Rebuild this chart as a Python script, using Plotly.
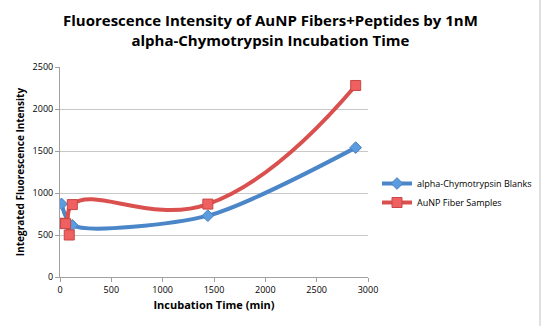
import plotly.graph_objects as go

blue_name = "alpha-Chymotrypsin Blanks"
blue_x = [15, 120, 1440, 2880]
blue_y = [870, 615, 730, 1540]

red_name = "AuNP Fiber Samples"
red_x = [15, 55, 90, 120, 1440, 2880]
red_y = [640, 635, 500, 862, 868, 2280]

x_ticks = [0, 500, 1000, 1500, 2000, 2500, 3000]
y_ticks = [0, 500, 1000, 1500, 2000, 2500]

title = "<b>Fluorescence Intensity of AuNP Fibers+Peptides by 1nM<br>alpha-Chymotrypsin Incubation Time</b>"
font = "Open Sans"

fig = go.Figure()
fig.add_trace(go.Scatter(
    x=blue_x, y=blue_y, name=blue_name, mode="lines+markers",
    line=dict(color="#4a86c8", width=4, shape="spline", smoothing=0.75),
    marker=dict(symbol="diamond", size=9, color="#5b9be0", line=dict(color="#4a7fbf", width=1)),
))
fig.add_trace(go.Scatter(
    x=red_x, y=red_y, name=red_name, mode="lines+markers",
    line=dict(color="#d9504f", width=4, shape="spline", smoothing=1.3),
    marker=dict(symbol="square", size=10, color="#f06060", line=dict(color="#c84646", width=1)),
))

fig.update_layout(
    width=541, height=326,
    margin=dict(l=60, r=173, t=67, b=49, autoexpand=False),
    paper_bgcolor="white", plot_bgcolor="white",
    font=dict(family=font, color="black", size=9),
    showlegend=True,
    legend=dict(x=377/541, y=1 - 193/326, xanchor="left", yanchor="middle", xref="container", yref="container",
                font=dict(family=font, size=9, color="black"), tracegroupgap=6,
                itemwidth=30, bgcolor="rgba(0,0,0,0)"),
    xaxis=dict(range=[0, 3000], tickvals=x_ticks, showgrid=False, zeroline=False,
               showline=True, linecolor="#a0a0a0", linewidth=1, ticks="outside",
               tickcolor="#a0a0a0", ticklen=4,
               title=dict(text="<b>Incubation Time (min)</b>", font=dict(size=11, family=font), standoff=6)),
    yaxis=dict(range=[0, 2500], tickvals=y_ticks, showgrid=True, gridcolor="#c8c8c8", gridwidth=1,
               zeroline=False, showline=True, linecolor="#a0a0a0", linewidth=1, ticks="outside",
               tickcolor="#a0a0a0", ticklen=4,
               title=dict(text="<b>Integrated Fluorescence Intensity</b>", font=dict(size=10, family=font), standoff=6)),
)
fig.add_annotation(text=title, xref="paper", yref="paper", x=(270 - 60) / 308, y=1 + (67 - 8) / 210,
                   xanchor="center", yanchor="top", showarrow=False, align="center",
                   font=dict(family=font, size=15, color="black"))
fig.add_shape(type="line", xref="paper", yref="paper", x0=1.0 + 172/308, x1=1.0 + 172/308, y0=-49/210, y1=1 + 67/210,
              line=dict(color="#c0c0c0", width=1))
fig.write_html("out.html")
